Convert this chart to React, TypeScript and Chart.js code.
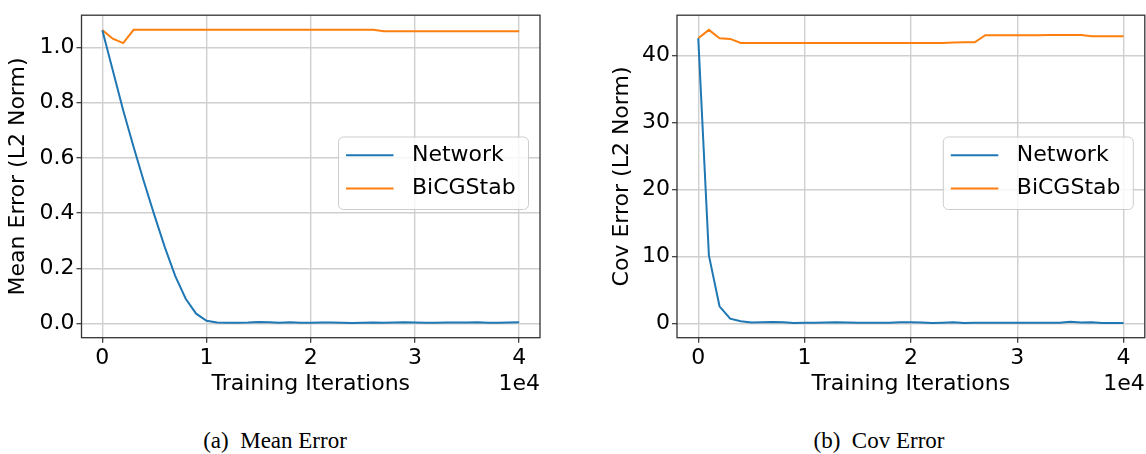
import React, { useEffect, useRef } from 'react';
import { Chart, registerables } from 'chart.js';

Chart.register(...registerables);

// ---------------- data ----------------
const iterations = [
  0, 1000, 2000, 3000, 4000, 5000, 6000, 7000, 8000, 9000,
  10000, 11000, 12000, 13000, 14000, 15000, 16000, 17000, 18000, 19000,
  20000, 21000, 22000, 23000, 24000, 25000, 26000, 27000, 28000, 29000,
  30000, 31000, 32000, 33000, 34000, 35000, 36000, 37000, 38000, 39000,
  40000,
];

const meanNetwork = [
  1.063, 0.918, 0.773, 0.640, 0.513, 0.392, 0.276, 0.172, 0.090, 0.036,
  0.010, 0.004, 0.003, 0.003, 0.004, 0.006, 0.005, 0.003, 0.005, 0.003,
  0.003, 0.004, 0.004, 0.003, 0.002, 0.003, 0.004, 0.003, 0.004, 0.005,
  0.004, 0.003, 0.003, 0.004, 0.004, 0.004, 0.005, 0.003, 0.003, 0.004,
  0.005,
];

const meanBiCGStab = [
  1.063, 1.032, 1.016, 1.064, 1.064, 1.064, 1.064, 1.064, 1.064, 1.064,
  1.064, 1.064, 1.064, 1.064, 1.064, 1.064, 1.064, 1.064, 1.064, 1.064,
  1.064, 1.064, 1.064, 1.064, 1.064, 1.064, 1.064, 1.059, 1.059, 1.059,
  1.059, 1.059, 1.059, 1.059, 1.059, 1.059, 1.059, 1.059, 1.059, 1.059,
  1.059,
];

const covNetwork = [
  42.6, 10.2, 2.6, 0.75, 0.38, 0.18, 0.22, 0.25, 0.2, 0.12,
  0.15, 0.15, 0.17, 0.22, 0.18, 0.15, 0.14, 0.15, 0.16, 0.2,
  0.22, 0.18, 0.12, 0.15, 0.2, 0.12, 0.13, 0.14, 0.13, 0.15,
  0.14, 0.15, 0.15, 0.13, 0.14, 0.3, 0.17, 0.2, 0.12, 0.1,
  0.1,
];

const covBiCGStab = [
  42.6, 43.85, 42.6, 42.5, 41.9, 41.9, 41.9, 41.9, 41.9, 41.9,
  41.9, 41.9, 41.9, 41.9, 41.9, 41.9, 41.9, 41.9, 41.9, 41.9,
  41.9, 41.9, 41.9, 41.9, 41.95, 42.0, 42.0, 43.05, 43.05, 43.05,
  43.05, 43.05, 43.05, 43.1, 43.1, 43.1, 43.1, 42.9, 42.9, 42.9,
  42.9,
];

const seriesLabels = ['Network', 'BiCGStab'];
const seriesColors = ['#1f77b4', '#ff7f0e'];

const xTicks = [0, 10000, 20000, 30000, 40000];
const meanTicks = [0, 0.2, 0.4, 0.6, 0.8, 1.0];
const covTicks = [0, 10, 20, 30, 40];

const xTitle = 'Training Iterations';
const xOffsetText = '1e4';
const meanTitle = 'Mean Error (L2 Norm)';
const covTitle = 'Cov Error (L2 Norm)';
const captionA = '(a)\u2002Mean Error';
const captionB = '(b)\u2002Cov Error';

// ---------------- styling ----------------
const FAMILY = "'DejaVu Sans', sans-serif";
const FS = 22;
const CANVAS_W = 573;
const CANVAS_H = 400;

const mplPlugin = {
  id: 'mplDecor',
  afterDraw(chart: any, _args: any, opts: any) {
    const { ctx, chartArea: a } = chart;
    ctx.save();
    // legend box
    const lg = opts.legend;
    const bx = a.right - lg.right - lg.width;
    const by = lg.top;
    ctx.beginPath();
    (ctx as any).roundRect(bx, by, lg.width, lg.height, lg.radius);
    ctx.fillStyle = 'rgba(255,255,255,0.8)';
    ctx.fill();
    ctx.strokeStyle = '#cccccc';
    ctx.lineWidth = 1;
    ctx.stroke();
    chart.data.datasets.forEach((ds: any, i: number) => {
      const y = by + lg.rowTop + i * lg.rowGap;
      ctx.beginPath();
      ctx.moveTo(bx + lg.lineX, y);
      ctx.lineTo(bx + lg.lineX + lg.lineLen, y);
      ctx.strokeStyle = ds.borderColor;
      ctx.lineWidth = ds.borderWidth;
      ctx.stroke();
      ctx.fillStyle = '#000';
      ctx.font = `${FS}px ${FAMILY}`;
      ctx.textBaseline = 'middle';
      ctx.textAlign = 'left';
      ctx.fillText(ds.label, bx + lg.textX, y);
    });
    // frame (spines)
    ctx.strokeStyle = '#333333';
    ctx.lineWidth = 1.3;
    ctx.strokeRect(a.left, a.top, a.right - a.left, a.bottom - a.top);
    // offset text
    ctx.fillStyle = '#000';
    ctx.font = `${FS}px ${FAMILY}`;
    ctx.textAlign = 'right';
    ctx.textBaseline = 'middle';
    ctx.fillText(opts.offsetText, a.right, opts.offsetY);
    ctx.restore();
  },
};

function paddedRange(arrays: number[][]) {
  const all = arrays.flat();
  const lo = Math.min(...all);
  const hi = Math.max(...all);
  const pad = (hi - lo) * 0.05;
  return { min: lo - pad, max: hi + pad };
}

function buildConfig(p: {
  series: number[][];
  yTicks: number[];
  yDecimals: number;
  yTitle: string;
  padLeft: number;
  padRight: number;
  yWidth: number;
}) {
  const yr = paddedRange(p.series);
  const font = { family: FAMILY, size: FS };
  return {
    type: 'line' as const,
    data: {
      datasets: p.series.map((vals, i) => ({
        label: seriesLabels[i],
        data: iterations.map((x, j) => ({ x, y: vals[j] })),
        borderColor: seriesColors[i],
        backgroundColor: seriesColors[i],
        borderWidth: 2,
        pointRadius: 0,
        tension: 0,
        fill: false,
      })),
    },
    options: {
      animation: false as const,
      responsive: false,
      devicePixelRatio: 1,
      layout: {
        padding: { left: p.padLeft, right: p.padRight, top: 9.3, bottom: 2.8 },
      },
      plugins: {
        legend: { display: false },
        tooltip: { enabled: false },
        mplDecor: {
          offsetText: xOffsetText,
          offsetY: 384,
          legend: {
            right: 11.5,
            width: 190,
            top: 137,
            height: 72.5,
            radius: 5,
            lineX: 7.5,
            lineLen: 47.5,
            textX: 73.5,
            rowTop: 18.3,
            rowGap: 33.3,
          },
        },
      },
      scales: {
        x: {
          type: 'linear' as const,
          min: -2000,
          max: 42000,
          afterBuildTicks: (s: any) => {
            s.ticks = xTicks.map((v) => ({ value: v }));
          },
          afterFit: (s: any) => {
            s.height = 59.5;
          },
          ticks: {
            font,
            color: '#000',
            padding: 2,
            maxRotation: 0,
            callback: (v: any) => String(Number(v) / 10000),
          },
          grid: {
            color: '#cfcfcf',
            lineWidth: 1.4,
            drawTicks: true,
            tickLength: 5,
            tickColor: '#333',
            tickWidth: 1.2,
          },
          border: { display: false },
          title: {
            display: true,
            text: xTitle,
            font,
            color: '#000',
            padding: { top: 0, bottom: 0 },
          },
        },
        y: {
          type: 'linear' as const,
          min: yr.min,
          max: yr.max,
          afterBuildTicks: (s: any) => {
            s.ticks = p.yTicks.map((v) => ({ value: v }));
          },
          afterFit: (s: any) => {
            s.width = p.yWidth;
          },
          ticks: {
            font,
            color: '#000',
            padding: 2,
            callback: (v: any) => Number(v).toFixed(p.yDecimals),
          },
          grid: {
            color: '#cfcfcf',
            lineWidth: 1.4,
            drawTicks: true,
            tickLength: 5,
            tickColor: '#333',
            tickWidth: 1.2,
          },
          border: { display: false },
          title: {
            display: true,
            text: p.yTitle,
            font,
            color: '#000',
            padding: { top: 0, bottom: 0 },
          },
        },
      },
    },
    plugins: [mplPlugin],
  };
}

function Panel(props: { config: any; left: number }) {
  const ref = useRef<HTMLCanvasElement>(null);
  useEffect(() => {
    if (!ref.current) return;
    const chart = new Chart(ref.current, props.config);
    return () => chart.destroy();
  }, []);
  return (
    <canvas
      ref={ref}
      width={CANVAS_W}
      height={CANVAS_H}
      style={{
        position: 'absolute',
        left: props.left,
        top: 0,
        width: CANVAS_W,
        height: CANVAS_H,
      }}
    />
  );
}

const captionStyle: React.CSSProperties = {
  position: 'absolute',
  top: 428,
  fontFamily: "'Liberation Serif', 'Times New Roman', serif",
  fontSize: 23,
  color: '#000',
  textAlign: 'center',
  whiteSpace: 'pre',
  lineHeight: '26px',
};

export default function App() {
  const meanConfig = buildConfig({
    series: [meanNetwork, meanBiCGStab],
    yTicks: meanTicks,
    yDecimals: 1,
    yTitle: meanTitle,
    padLeft: 4.8,
    padRight: 33,
    yWidth: 76.7,
  });
  const covConfig = buildConfig({
    series: [covNetwork, covBiCGStab],
    yTicks: covTicks,
    yDecimals: 0,
    yTitle: covTitle,
    padLeft: 35.8,
    padRight: 1.2,
    yWidth: 68.2,
  });
  return (
    <div
      style={{
        position: 'absolute',
        left: 0,
        top: 0,
        width: 1146,
        height: 454,
        background: '#fff',
        overflow: 'hidden',
      }}
    >
      <Panel config={meanConfig} left={0} />
      <Panel config={covConfig} left={573} />
      <div style={{ ...captionStyle, left: 0, width: 550 }}>{captionA}</div>
      <div style={{ ...captionStyle, left: 629, width: 500 }}>{captionB}</div>
    </div>
  );
}
